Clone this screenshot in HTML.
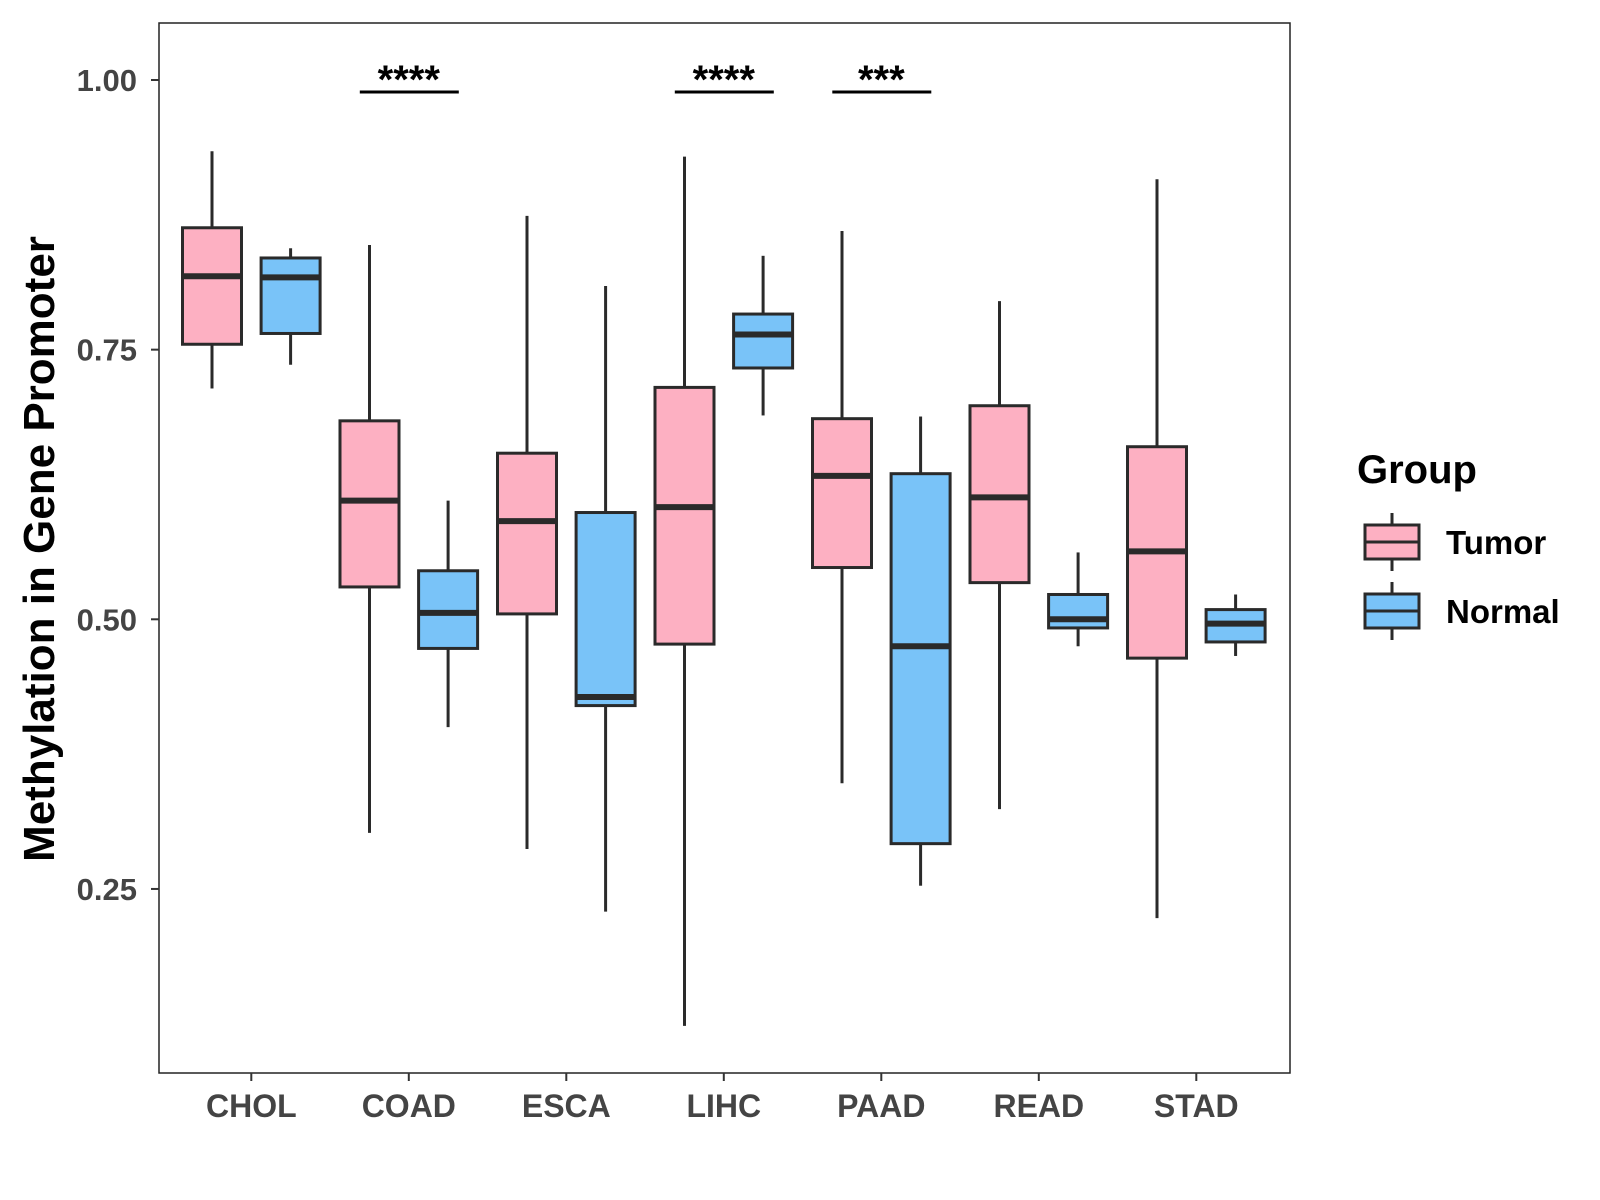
<!DOCTYPE html>
<html><head><meta charset="utf-8"><style>
body{margin:0;background:#fff;}
svg{display:block;font-family:"Liberation Sans",Arial,sans-serif;}
</style></head><body>
<svg id="chart" width="1600" height="1200" viewBox="0 0 1600 1200"></svg>
<script>
const categories=["CHOL","COAD","ESCA","LIHC","PAAD","READ","STAD"];
const tumorMin=[0.714,0.302,0.287,0.123,0.348,0.324,0.223];
const tumorQ1=[0.755,0.530,0.505,0.477,0.548,0.534,0.464];
const tumorMed=[0.818,0.610,0.591,0.604,0.633,0.613,0.563];
const tumorQ3=[0.863,0.684,0.654,0.715,0.686,0.698,0.660];
const tumorMax=[0.934,0.847,0.874,0.929,0.860,0.795,0.908];
const normalMin=[0.736,0.400,0.229,0.689,0.253,0.475,0.466];
const normalQ1=[0.765,0.473,0.420,0.733,0.292,0.492,0.479];
const normalMed=[0.817,0.506,0.428,0.764,0.475,0.500,0.496];
const normalQ3=[0.835,0.545,0.599,0.783,0.635,0.523,0.509];
const normalMax=[0.844,0.610,0.809,0.837,0.688,0.562,0.523];
const yTicks=[0.25,0.50,0.75,1.00];
const yTickLabels=["0.25","0.50","0.75","1.00"];
const sigCats=["COAD","LIHC","PAAD"];
const sigLabels=["****","****","***"];

const NS="http://www.w3.org/2000/svg";
const svg=document.getElementById('chart');
const L=159,R=1290,T=23,B=1073;
function y(v){return 80+(1-v)*1078.6;}
function x(i){return 251.3+i*157.5;}
function mk(tag,attrs,parent){const e=document.createElementNS(NS,tag);for(const k in attrs)e.setAttribute(k,attrs[k]);(parent||svg).appendChild(e);return e;}

const panel=mk('rect',{x:L,y:T,width:R-L,height:B-T,fill:'none',stroke:'#222','stroke-width':1.5});



yTicks.forEach((t,i)=>{
  const g=mk('g',{});
  
  
  mk('line',{x1:L-8,x2:L,y1:y(t),y2:y(t),stroke:'#333','stroke-width':2},g);
  const tx=mk('text',{x:L-22,y:y(t)+11,'text-anchor':'end','font-size':31,'font-weight':'bold',fill:'#444'},g);
  tx.textContent=yTickLabels[i];
});
categories.forEach((c,i)=>{
  const g=mk('g',{});
  
  
  mk('line',{x1:x(i),x2:x(i),y1:B,y2:B+8,stroke:'#333','stroke-width':2},g);
  const tx=mk('text',{x:x(i),y:B+44,'text-anchor':'middle','font-size':32,'font-weight':'bold',fill:'#444'},g);
  tx.textContent=c;
});

function box(cx,mn,q1,md,q3,mx,fill,name){
  const g=mk('g',{});
  
  
  const w=59;
  mk('line',{x1:cx,x2:cx,y1:y(mx),y2:y(q3),stroke:'#2a2a2a','stroke-width':3},g);
  mk('line',{x1:cx,x2:cx,y1:y(q1),y2:y(mn),stroke:'#2a2a2a','stroke-width':3},g);
  mk('rect',{x:cx-w/2,y:y(q3),width:w,height:y(q1)-y(q3),fill:fill,stroke:'#2a2a2a','stroke-width':3},g);
  mk('line',{x1:cx-w/2,x2:cx+w/2,y1:y(md),y2:y(md),stroke:'#2a2a2a','stroke-width':6},g);
}
categories.forEach((c,i)=>{
  box(x(i)-39.3,tumorMin[i],tumorQ1[i],tumorMed[i],tumorQ3[i],tumorMax[i],'#FDB0C2','box-tumor-'+c.toLowerCase());
  box(x(i)+39.3,normalMin[i],normalQ1[i],normalMed[i],normalQ3[i],normalMax[i],'#79C3F8','box-normal-'+c.toLowerCase());
});

sigCats.forEach((c,k)=>{
  const i=categories.indexOf(c);
  const g=mk('g',{});
  
  
  mk('line',{x1:x(i)-49,x2:x(i)+50,y1:92,y2:92,stroke:'#000','stroke-width':3},g);
  const tx=mk('text',{x:x(i),y:93,'text-anchor':'middle','font-size':40,'font-weight':'bold',fill:'#000'},g);
  tx.textContent=sigLabels[k];
});

const yt=mk('text',{x:0,y:0,transform:'translate(54,549) rotate(-90)','text-anchor':'middle','font-size':44,'font-weight':'bold',fill:'#000'});
yt.textContent='Methylation in Gene Promoter';



const lg=mk('g',{});


const lt=mk('text',{x:1357,y:483,'font-size':40,'font-weight':'bold',fill:'#000'},lg);
lt.textContent='Group';
[['Tumor','#FDB0C2',542],['Normal','#79C3F8',611]].forEach(([n,f,cy])=>{
  const g=mk('g',{},lg);
  
  
  mk('line',{x1:1392,x2:1392,y1:cy-29,y2:cy+29,stroke:'#2a2a2a','stroke-width':3},g);
  mk('rect',{x:1365,y:cy-17,width:54,height:34,fill:f,stroke:'#2a2a2a','stroke-width':3},g);
  mk('line',{x1:1365,x2:1419,y1:cy,y2:cy,stroke:'#2a2a2a','stroke-width':3},g);
  const t=mk('text',{x:1446,y:cy+12,'font-size':33,'font-weight':'bold',fill:'#000'},g);
  t.textContent=n;
});
</script>
</body></html>
